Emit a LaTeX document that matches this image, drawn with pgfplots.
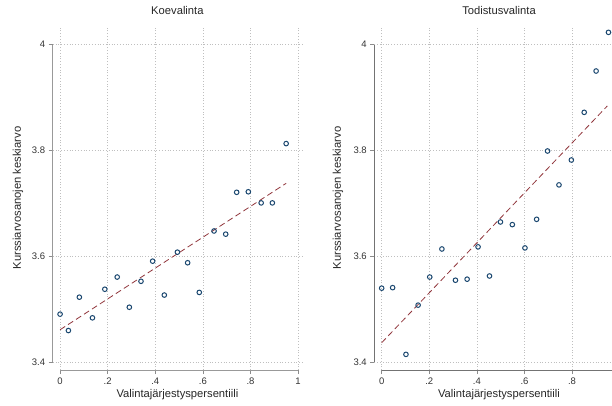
\documentclass[border=0pt]{standalone}
\usepackage{pgfplots}
\pgfplotsset{compat=1.18}
\usepackage{fontspec}
\setmainfont{Liberation Sans}

\definecolor{stnavy}{HTML}{1A476F}
\definecolor{stmaroon}{HTML}{90353B}

\pgfplotsset{
  statapanel/.style={
    scale only axis, width=249.4pt, height=344pt,
    anchor=south west,
    xmin=-0.031, xmax=1.017, ymin=3.3855, ymax=4.035,
    axis line style={draw=none},
    xtick={0,0.2,0.4,0.6,0.8,1}, xticklabels={0,.2,.4,.6,.8,1},
    ytick={3.4,3.6,3.8,4}, yticklabels={3.4,3.6,3.8,4},
    xtick pos=bottom, ytick pos=left, tick align=outside,
    major tick length=4pt, tick style={black!45, line width=0.6pt},
    grid=major, grid style={black!25, dash pattern=on 0.8pt off 2pt, line width=0.5pt},
    /pgf/number format/assume math mode=true,
    tick label style={font=\fontsize{9.5}{11}\selectfont, text=black!80},
    label style={font=\fontsize{11.2}{13}\selectfont, text=black!85},
    title style={font=\fontsize{11.2}{13}\selectfont, text=black!85, at={(axis description cs:0.5,1.029)}, anchor=center},
    xlabel style={at={(axis description cs:0.5,-0.072)}, anchor=center},
    xlabel={Valintajärjestyspersentiili},
    ylabel={Kurssiarvosanojen keskiarvo},
    clip=false,
  },
  pts/.style={only marks, mark=o, mark size=2.3pt, mark options={draw=stnavy, line width=1pt}},
  fit/.style={no marks, stmaroon, line width=0.8pt, dash pattern=on 6pt off 3.5pt},
}

\begin{document}
\begin{tikzpicture}
\useasboundingbox (0pt,0pt) rectangle (612pt,405pt);
\clip (0pt,0pt) rectangle (612pt,405pt);

% left panel
\begin{axis}[statapanel, at={(52.7pt,35pt)}, title={Koevalinta},
  ylabel style={at={(axis description cs:-0.139,0.5)}, anchor=center}]
\addplot[pts] coordinates {
  (0.000,3.491) (0.035,3.460) (0.081,3.523) (0.136,3.484) (0.188,3.538)
  (0.240,3.561) (0.291,3.504) (0.340,3.553) (0.389,3.591) (0.438,3.527)
  (0.493,3.608) (0.536,3.588) (0.585,3.532) (0.647,3.648) (0.696,3.642)
  (0.742,3.721) (0.791,3.722) (0.845,3.701) (0.892,3.701) (0.950,3.813)
};
\addplot[fit] coordinates {(0,3.4615) (0.95,3.738)};
\draw[black!40, line width=0.8pt] (axis cs:-0.031,3.4) -- (axis cs:-0.031,4);
\draw[black!40, line width=0.8pt] (axis cs:0,3.3855) -- (axis cs:1,3.3855);
\end{axis}

% right panel (cut at the picture's right edge, as in the original)
\begin{axis}[statapanel, at={(374.3pt,35pt)}, title={Todistusvalinta},
  xtick={0,0.2,0.4,0.6,0.8}, xticklabels={0,.2,.4,.6,.8},
  ylabel style={at={(axis description cs:-0.146,0.5)}, anchor=center}]
\addplot[pts] coordinates {
  (0.000,3.540) (0.046,3.541) (0.102,3.415) (0.153,3.508) (0.202,3.561)
  (0.253,3.614) (0.310,3.555) (0.359,3.557) (0.405,3.618) (0.453,3.563)
  (0.499,3.665) (0.549,3.660) (0.602,3.616) (0.651,3.670) (0.697,3.799)
  (0.745,3.735) (0.797,3.782) (0.851,3.872) (0.901,3.950) (0.953,4.023)
};
\addplot[fit] coordinates {(0,3.437) (0.948,3.884)};
\draw[black!55, line width=0.8pt] (axis cs:-0.031,3.4) -- (axis cs:-0.031,4);
\draw[black!55, line width=0.8pt] (axis cs:0,3.3855) -- (axis cs:1,3.3855);
\end{axis}
\end{tikzpicture}
\end{document}
